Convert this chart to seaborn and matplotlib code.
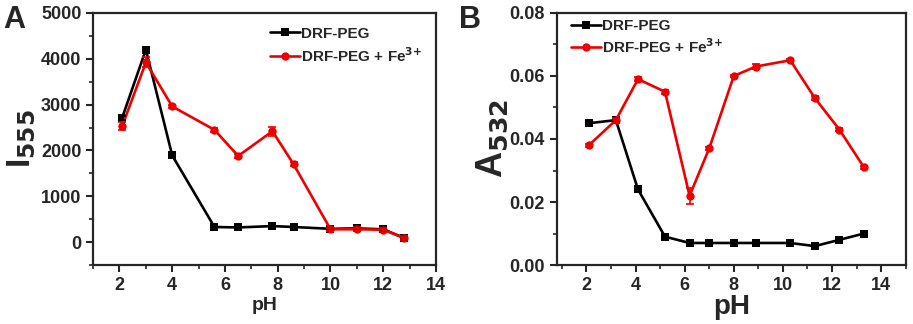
import numpy as np
import pandas as pd
import matplotlib
matplotlib.use('Agg')
import matplotlib.pyplot as plt
import seaborn as sns
from matplotlib.ticker import MultipleLocator, FormatStrFormatter

# 데이터
ph_a = [2.1, 3.0, 4.0, 5.6, 6.5, 7.8, 8.6, 10.0, 11.0, 12.0, 12.8]
i555_drf = [2710, 4200, 1890, 330, 320, 350, 330, 290, 300, 280, 90]
i555_fe = [2530, 3920, 2960, 2450, 1880, 2420, 1700, 280, 280, 270, 90]
i555_fe_err = [90, 110, 40, 40, 50, 100, 40, 30, 40, 30, 40]
i555_drf_err = [40, 40, 40, 30, 20, 20, 20, 20, 30, 30, 50]

ph_b = [2.1, 3.2, 4.1, 5.2, 6.2, 7.0, 8.0, 8.9, 10.3, 11.3, 12.3, 13.3]
a532_drf = [0.045, 0.046, 0.024, 0.009, 0.007, 0.007, 0.007, 0.007, 0.007, 0.006, 0.008, 0.010]
a532_fe = [0.038, 0.046, 0.059, 0.055, 0.022, 0.037, 0.060, 0.063, 0.065, 0.053, 0.043, 0.031]
a532_fe_err = [0.0005, 0.0008, 0.0007, 0.0007, 0.0025, 0.0004, 0.0004, 0.0007, 0.0004, 0.0007, 0.0004, 0.0004]
a532_drf_err = [0.0006, 0.0006, 0.0008, 0.0008, 0.0005, 0.0004, 0.0004, 0.0005, 0.0005, 0.0006, 0.0004, 0.0004]

names = ['DRF-PEG', 'DRF-PEG + Fe$^{3{+}}$']
red = '#ee0000'
colors = {names[0]: 'black', names[1]: red}
markers = {names[0]: 's', names[1]: 'o'}

sns.set_style('ticks')
plt.rcParams['font.family'] = ['Liberation Sans', 'DejaVu Sans']
plt.rcParams['font.weight'] = 'bold'
plt.rcParams['axes.labelweight'] = 'bold'
plt.rcParams['mathtext.default'] = 'bf'

fig = plt.figure(figsize=(9.13, 3.24), dpi=100)
ax_a = fig.add_axes([0.102, 0.182, 0.3755, 0.778])
ax_b = fig.add_axes([0.610, 0.182, 0.382, 0.778])


def draw_panel(ax, ph, y1, e1, y2, e2):
    df = pd.DataFrame({
        'pH': ph + ph,
        'val': y1 + y2,
        'series': [names[0]] * len(ph) + [names[1]] * len(ph),
    })
    sns.lineplot(data=df, x='pH', y='val', hue='series', style='series',
                 palette=colors, markers=markers, dashes=False, ax=ax,
                 linewidth=1.9, markersize=6, markeredgewidth=0, sort=False)
    ax.errorbar(ph, y1, yerr=e1, fmt='none', ecolor='black', elinewidth=1.2, capsize=3, capthick=1.2)
    ax.errorbar(ph, y2, yerr=e2, fmt='none', ecolor=red, elinewidth=1.2, capsize=3, capthick=1.2)
    for s in ['left', 'bottom', 'top', 'right']:
        ax.spines[s].set_linewidth(1.6)
        ax.spines[s].set_visible(True)
    ax.tick_params(which='major', direction='out', length=5, width=1.5, labelsize=13,
                   top=False, right=False)
    ax.tick_params(which='minor', direction='out', length=3, width=1.2, top=False, right=False)
    ax.xaxis.set_major_locator(MultipleLocator(2))
    ax.xaxis.set_minor_locator(MultipleLocator(1))
    for lab in ax.get_xticklabels() + ax.get_yticklabels():
        lab.set_fontweight('bold')


# A
draw_panel(ax_a, ph_a, i555_drf, i555_drf_err, i555_fe, i555_fe_err)
ax_a.set_xlim(1, 14)
ax_a.set_ylim(-500, 5000)
ax_a.yaxis.set_major_locator(MultipleLocator(1000))
ax_a.yaxis.set_minor_locator(MultipleLocator(500))
ax_a.set_xlabel('pH', fontsize=14, fontweight='bold', labelpad=2)
ax_a.set_ylabel('I$_{555}$', fontsize=24, fontweight='bold', labelpad=2)
ax_a.legend(loc='upper right', frameon=False, fontsize=11, handlelength=2.0,
            handletextpad=0.05, bbox_to_anchor=(1.0, 1.0), labelspacing=0.35)

# B
draw_panel(ax_b, ph_b, a532_drf, a532_drf_err, a532_fe, a532_fe_err)
ax_b.set_xlim(0.8, 15)
ax_b.set_ylim(0, 0.08)
ax_b.yaxis.set_major_locator(MultipleLocator(0.02))
ax_b.yaxis.set_minor_locator(MultipleLocator(0.01))
ax_b.yaxis.set_major_formatter(FormatStrFormatter('%.2f'))
ax_b.set_xlabel('pH', fontsize=20, fontweight='bold', labelpad=0)
ax_b.set_ylabel('A$_{532}$', fontsize=26, fontweight='bold', labelpad=0)
ax_b.legend(loc='upper left', frameon=False, fontsize=11, handlelength=2.0,
            handletextpad=0.05, bbox_to_anchor=(0.0, 1.03), labelspacing=0.25)

fig.text(0.003, 0.985, 'A', fontsize=22, fontweight='bold', va='top', ha='left')
fig.text(0.503, 0.985, 'B', fontsize=22, fontweight='bold', va='top', ha='left')

fig.savefig('out.png', dpi=100)
